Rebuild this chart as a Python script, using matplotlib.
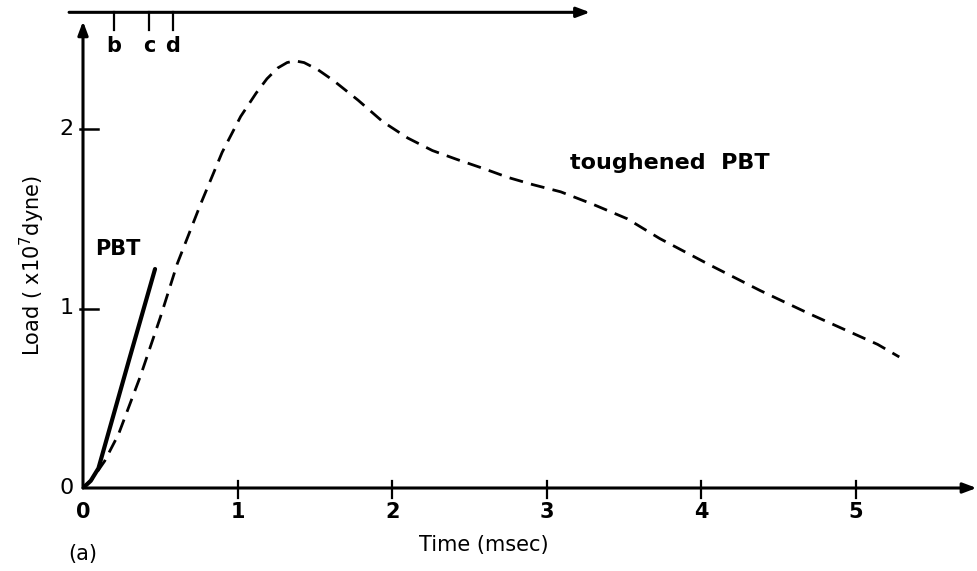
import matplotlib
matplotlib.use("Agg")
import matplotlib.pyplot as plt

# data (time in msec, load in 1e7 dyne)
pbt_t = [0.0, 0.05, 0.10, 0.30, 0.466]
pbt_load = [0.0, 0.04, 0.11, 0.72, 1.22]

tough_t = [0.0, 0.06, 0.14, 0.23, 0.37, 0.50, 0.61, 0.76, 0.90, 1.02, 1.12, 1.19,
           1.26, 1.32, 1.37, 1.43, 1.52, 1.62, 1.78, 1.94, 2.10, 2.26, 2.42, 2.59,
           2.75, 2.91, 3.09, 3.30, 3.52, 3.73, 4.06, 4.38, 4.70, 5.14, 5.28]
tough_load = [0.0, 0.05, 0.15, 0.30, 0.62, 0.95, 1.25, 1.58, 1.87, 2.07, 2.20, 2.28,
              2.34, 2.37, 2.38, 2.37, 2.33, 2.27, 2.16, 2.04, 1.95, 1.88, 1.83, 1.78,
              1.73, 1.69, 1.65, 1.58, 1.50, 1.39, 1.24, 1.10, 0.97, 0.80, 0.73]

x_ticks = [0, 1, 2, 3, 4, 5]
y_ticks = [0, 1, 2]
marks = ["b", "c", "d"]
mark_t = [0.20, 0.43, 0.58]

W, H = 978, 571
x0, y0 = 83, 488          # pixel of origin
sx, sy = 154.6, 179.5     # pixels per unit
xmax, ymax = 5.78, 2.66

fig = plt.figure(figsize=(W / 100, H / 100), dpi=100)
ax = fig.add_axes([x0 / W, (H - y0) / H, xmax * sx / W, ymax * sy / H])
ax.set_xlim(0, xmax)
ax.set_ylim(0, ymax)
ax.set_xticks([])
ax.set_yticks([])
for s in ax.spines.values():
    s.set_visible(False)

ax.plot(tough_t, tough_load, color="black", lw=2.0, dashes=[5, 3])
ax.plot(pbt_t, pbt_load, color="black", lw=3.0, solid_capstyle="round")

# axes drawn as arrows
arr = dict(arrowstyle="-|>,head_length=0.8,head_width=0.3", color="black", lw=2.2,
           shrinkA=0, shrinkB=0)
ax.annotate("", xy=(xmax, 0), xytext=(0, 0), arrowprops=arr, annotation_clip=False)
ax.annotate("", xy=(0, 2.60), xytext=(0, 0), arrowprops=arr, annotation_clip=False)
ax.annotate("", xy=(3.28, 2.65), xytext=(-0.09, 2.65), arrowprops=arr,
            annotation_clip=False)

# ticks
for t in x_ticks[1:]:
    ax.plot([t, t], [-0.055, 0.04], color="black", lw=1.6, clip_on=False)
for v in y_ticks[1:]:
    ax.plot([-0.02, 0.1], [v, v], color="black", lw=1.8, clip_on=False)
for t in x_ticks:
    ax.text(t, -0.08, str(t), ha="center", va="top", fontsize=15, fontweight="bold")
for v in y_ticks:
    ax.text(-0.06, v, str(v), ha="right", va="center", fontsize=16)

# b c d marks on the top line
for m, t in zip(marks, mark_t):
    ax.plot([t, t], [2.65, 2.55], color="black", lw=1.6, clip_on=False)
    ax.text(t, 2.46, m, ha="center", va="center", fontsize=15, fontweight="bold")

ax.text(0.08, 1.33, "PBT", ha="left", va="center", fontsize=15, fontweight="bold")
ax.text(3.15, 1.81, "toughened  PBT", ha="left", va="center", fontsize=16,
        fontweight="bold")

ax.text(2.59, -0.32, "Time (msec)", ha="center", va="center", fontsize=15)
ax.text(-0.33, 1.24, "Load ( x10$^7$dyne)", ha="center", va="center",
        rotation=90, fontsize=15)
ax.text(0.0, -0.37, "(a)", ha="center", va="center", fontsize=15)

fig.savefig("out.png", dpi=100)
